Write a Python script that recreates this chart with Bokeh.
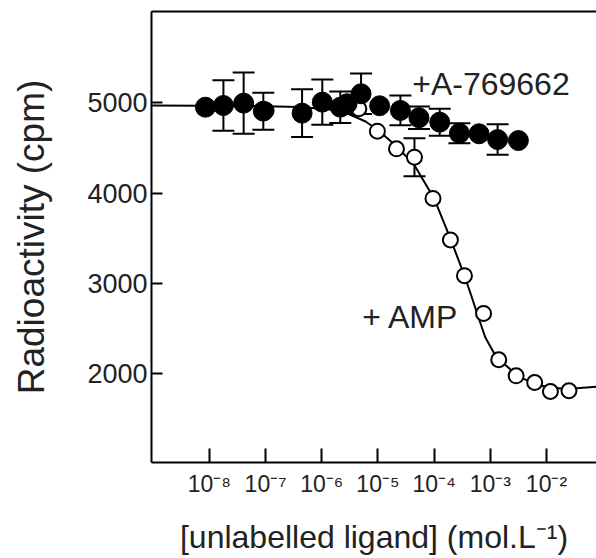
from bokeh.plotting import figure
from bokeh.models import (ColumnDataSource, Whisker, TeeHead, FixedTicker,
                          LinearAxis, Label, Range1d)
from bokeh.embed import file_html
from bokeh.resources import INLINE

# ---- data (log10 of concentration in mol/L, radioactivity in cpm) ----
a769_logx = [-8.07, -7.75, -7.39, -7.04, -6.35, -5.99, -5.67, -5.55, -5.30,
             -4.97, -4.60, -4.27, -3.90, -3.55, -3.20, -2.87, -2.50]
a769_cpm = [4953, 4972, 4998, 4909, 4887, 5009, 4953, 4991, 5102,
            4969, 4917, 4836, 4787, 4664, 4658, 4594, 4583]
a769_err = [0, 280, 340, 205, 265, 250, 175, 0, 225,
            0, 165, 125, 150, 110, 0, 170, 0]

amp_logx = [-6.99, -5.34, -5.01, -4.67, -4.35, -4.02, -3.71, -3.46, -3.12,
            -2.85, -2.54, -2.21, -1.93, -1.60]
amp_cpm = [4917, 4936, 4687, 4491, 4398, 3941, 3480, 3083, 2664,
           2150, 1972, 1898, 1798, 1806]
amp_err = [0, 0, 0, 0, 210, 0, 0, 0, 0, 0, 0, 0, 0, 0]

fit_logx = [-9.03, -7.3, -6.4, -5.85, -5.5, -5.22, -5.0, -4.67, -4.35, -4.0,
            -3.71, -3.46, -3.35, -3.2, -3.09, -2.94, -2.86, -2.67, -2.55,
            -2.4, -2.23, -2.0, -1.63, -1.11]
fit_cpm = [4972, 4967, 4956, 4928, 4872, 4794, 4700, 4520, 4310, 3940,
           3494, 3083, 2883, 2600, 2400, 2231, 2161, 2058, 1990, 1935,
           1898, 1845, 1825, 1850]

x_tick_exp = [-8, -7, -6, -5, -4, -3, -2]
x_tick_labels = ["10\u207b\u2078", "10\u207b\u2077", "10\u207b\u2076", "10\u207b\u2075",
                 "10\u207b\u2074", "10\u207b\u00b3", "10\u207b\u00b2"]
y_ticks = [2000, 3000, 4000, 5000]

FONT = "Liberation Sans"

p = figure(width=596, height=558, x_axis_type="log",
           x_range=Range1d(10 ** -9.03, 10 ** -1.11),
           y_range=Range1d(1010, 6015),
           output_backend="svg", toolbar_location=None,
           min_border_left=151, min_border_right=0, min_border_top=11,
           min_border_bottom=96)
p.outline_line_color = None
p.xgrid.grid_line_color = None
p.ygrid.grid_line_color = None
p.background_fill_color = "white"
p.border_fill_color = "white"

# fitted curve
p.line([10 ** v for v in fit_logx], fit_cpm, line_width=2, color="black")

# error bars
def whisker_src(lx, cpm, err):
    xs, up, lo = [], [], []
    for a, b, e in zip(lx, cpm, err):
        if e:
            xs.append(10 ** a)
            up.append(b + e)
            lo.append(b - e)
    return ColumnDataSource(dict(x=xs, upper=up, lower=lo))

for lx, cpm, err in ((amp_logx, amp_cpm, amp_err), (a769_logx, a769_cpm, a769_err)):
    w = Whisker(source=whisker_src(lx, cpm, err), base="x", upper="upper", lower="lower",
                line_width=2, line_color="black", level="underlay",
                upper_head=TeeHead(size=22, line_width=2, line_color="black"),
                lower_head=TeeHead(size=22, line_width=2, line_color="black"))
    p.add_layout(w)

# open circles (+AMP)
p.scatter([10 ** v for v in amp_logx], amp_cpm, marker="circle", size=15,
          fill_color="white", line_color="black", line_width=2)
# filled circles (+A-769662)
p.scatter([10 ** v for v in a769_logx], a769_cpm, marker="circle", size=20,
          fill_color="black", line_color="black", line_width=1)

# axes
xa = p.xaxis[0]
xa.ticker = FixedTicker(ticks=[10 ** e for e in x_tick_exp])
xa.major_label_overrides = {10 ** e: lab for e, lab in zip(x_tick_exp, x_tick_labels)}
xa.minor_tick_line_color = None
xa.major_tick_in = 14
xa.major_tick_out = 0
xa.major_tick_line_width = 2
xa.axis_line_width = 2
xa.major_label_text_font = FONT
xa.major_label_text_font_size = "23px"
xa.major_label_text_color = "#222222"
xa.major_label_standoff = 8
xa.axis_label = "[unlabelled ligand] (mol.L\u207b\u00b9)"
xa.axis_label_text_font = FONT
xa.axis_label_text_font_size = "32px"
xa.axis_label_text_font_style = "normal"
xa.axis_label_text_color = "#222222"
xa.axis_label_standoff = 19

ya = p.yaxis[0]
ya.ticker = FixedTicker(ticks=y_ticks)
ya.minor_tick_line_color = None
ya.major_tick_in = 11
ya.major_tick_out = 0
ya.major_tick_line_width = 2
ya.axis_line_width = 2
ya.major_label_text_font = FONT
ya.major_label_text_font_size = "27px"
ya.major_label_text_color = "#222222"
ya.major_label_standoff = 4
ya.axis_label = "Radioactivity (cpm)"
ya.axis_label_text_font = FONT
ya.axis_label_text_font_size = "37px"
ya.axis_label_text_font_style = "normal"
ya.axis_label_text_color = "#222222"
ya.axis_label_standoff = 32

top = LinearAxis(major_tick_line_color=None, minor_tick_line_color=None,
                 major_label_text_font_size="0px", major_label_standoff=0,
                 major_tick_in=0, major_tick_out=0, axis_line_width=2,
                 ticker=FixedTicker(ticks=[]))
p.add_layout(top, "above")

# annotations
p.add_layout(Label(x=10 ** -4.39, y=5213, text="+A-769662", text_font=FONT,
                   text_font_size="32px", text_color="#222222",
                   text_baseline="alphabetic", text_align="left"))
p.add_layout(Label(x=10 ** -5.28, y=2622, text="+ AMP", text_font=FONT,
                   text_font_size="32px", text_color="#222222",
                   text_baseline="alphabetic", text_align="left"))

open("out.html", "w").write(file_html(p, INLINE))
